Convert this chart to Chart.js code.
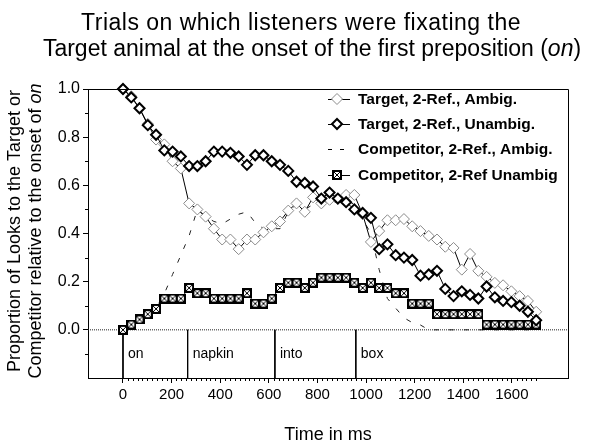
<!DOCTYPE html>
<html>
<head>
<meta charset="utf-8">
<script src="https://cdn.jsdelivr.net/npm/chart.js@4.4.1/dist/chart.umd.min.js"></script>
<style>
html,body{margin:0;padding:0;background:#fff;}
#wrap{width:600px;height:448px;position:relative;}
</style>
</head>
<body>
<div id="wrap"><canvas id="c" width="600" height="448"></canvas></div>
<script>
// ---------- data ----------
const timesMs = [0,34,68,102,136,170,204,238,272,306,340,374,408,442,476,510,544,578,612,646,680,714,748,782,816,850,884,918,952,986,1020,1054,1088,1122,1156,1190,1224,1258,1292,1326,1360,1394,1428,1462,1496,1530,1564,1598,1632,1666,1700];

const targetAmbig = [1.0,0.97,0.92,0.855,0.79,0.77,0.70,0.67,0.525,0.50,0.47,0.42,0.375,0.375,0.335,0.375,0.375,0.405,0.43,0.45,0.495,0.525,0.49,0.55,0.525,0.54,0.545,0.56,0.56,0.48,0.365,0.41,0.455,0.455,0.46,0.43,0.41,0.39,0.375,0.345,0.34,0.25,0.315,0.245,0.22,0.195,0.185,0.16,0.14,0.12,0.075];

const targetUnambig = [1.0,0.965,0.92,0.85,0.81,0.745,0.74,0.72,0.68,0.68,0.70,0.74,0.74,0.735,0.72,0.685,0.725,0.725,0.70,0.685,0.66,0.615,0.61,0.595,0.545,0.57,0.545,0.53,0.50,0.485,0.465,0.335,0.355,0.31,0.30,0.29,0.225,0.23,0.245,0.17,0.14,0.16,0.145,0.13,0.18,0.135,0.12,0.115,0.10,0.075,0.04];

const competitorAmbig = [0,0.02,0.04,0.065,0.09,0.15,0.23,0.31,0.39,0.50,0.47,0.45,0.44,0.46,0.48,0.49,0.445,0.42,0.42,0.42,0.49,0.52,0.50,0.52,0.52,0.53,0.53,0.54,0.52,0.46,0.40,0.25,0.13,0.09,0.05,0.03,0.02,0,0,0,0,0,0,0,0,0,0,0,0,0,0];

const competitorUnambig = [0,0.022,0.043,0.065,0.087,0.13,0.13,0.13,0.174,0.152,0.152,0.13,0.13,0.13,0.13,0.152,0.109,0.109,0.13,0.174,0.196,0.196,0.174,0.196,0.217,0.217,0.217,0.217,0.196,0.174,0.196,0.174,0.174,0.152,0.152,0.109,0.109,0.109,0.065,0.065,0.065,0.065,0.065,0.065,0.022,0.022,0.022,0.022,0.022,0.022,0.022];

const seriesLabels = ['Target, 2-Ref., Ambig.','Target, 2-Ref., Unambig.','Competitor, 2-Ref., Ambig.','Competitor, 2-Ref Unambig'];
const wordOnsets = [0,266,625,958];
const wordLabels = ['on','napkin','into','box'];
const xTickValues = [0,200,400,600,800,1000,1200,1400,1600];
const yTickValues = [0,0.2,0.4,0.6,0.8,1.0];
const xRange = [-144,1831];
const yRange = [-0.2,1.0];

// ---------- styling ----------
const FONT = "'Liberation Sans', Arial, Helvetica, sans-serif";

function makeBoxX(){
  const c = document.createElement('canvas');
  c.width = 10; c.height = 10;
  const g = c.getContext('2d');
  g.fillStyle = '#fff'; g.fillRect(0,0,10,10);
  g.strokeStyle = '#000';
  g.lineWidth = 2; g.strokeRect(1,1,8,8);
  g.lineWidth = 1;
  g.beginPath(); g.moveTo(1.5,1.5); g.lineTo(8.5,8.5); g.moveTo(8.5,1.5); g.lineTo(1.5,8.5); g.stroke();
  return c;
}
const boxX = makeBoxX();

const pts = arr => timesMs.map((t,i)=>({x:t,y:arr[i]}));

const styles = [
  {borderColor:'#000',borderWidth:1,pointStyle:'rectRot',pointRadius:5.5,pointBorderColor:'#8a8a8a',pointBorderWidth:1,pointBackgroundColor:'#fff',order:2},
  {borderColor:'#000',borderWidth:1,pointStyle:'rectRot',pointRadius:5,pointBorderColor:'#000',pointBorderWidth:2,pointBackgroundColor:'#fff',order:0},
  {borderColor:'#222',borderWidth:1,borderDash:[5,10],pointRadius:0,order:3},
  {borderColor:'#000',borderWidth:1,pointStyle:boxX,pointRadius:5,order:1}
];
const seriesData = [targetAmbig,targetUnambig,competitorAmbig,competitorUnambig];

const datasets = seriesData.map((arr,i)=>Object.assign({
  label:seriesLabels[i], data:pts(arr), tension:0, clip:false, pointHoverRadius:0
}, styles[i]));

// zero reference line
datasets.push({label:'zero', data:[{x:xRange[0],y:0},{x:xRange[1],y:0}], borderColor:'#222', borderWidth:1, borderDash:[1,1], pointRadius:0, order:5, clip:false});
// word onset lines
wordOnsets.forEach(t=>{
  datasets.push({label:'word', data:[{x:t,y:0},{x:t,y:yRange[0]}], borderColor:'#000', borderWidth:1, pointRadius:0, order:4});
});

function drawMixed(ctx, parts, cx, y, size, spacing){
  const sp = spacing || '0px';
  let total = 0;
  parts.forEach(p=>{ ctx.font = (p.i?'italic ':'') + size + 'px ' + FONT; ctx.letterSpacing = sp; p.w = ctx.measureText(p.t).width; total += p.w; });
  let x = cx - total/2;
  ctx.textAlign = 'left';
  parts.forEach(p=>{ ctx.font = (p.i?'italic ':'') + size + 'px ' + FONT; ctx.letterSpacing = sp; ctx.fillText(p.t, x, y); x += p.w; });
  ctx.letterSpacing = '0px';
}

const decor = {
  id:'decor',
  afterDraw(chart){
    const ctx = chart.ctx, a = chart.chartArea;
    const xs = chart.scales.x, ys = chart.scales.y;
    ctx.save();
    ctx.strokeStyle = '#000'; ctx.lineWidth = 1;
    // top and right frame
    ctx.beginPath();
    ctx.moveTo(a.left, Math.round(a.top)+0.5); ctx.lineTo(Math.round(a.right)+0.5, Math.round(a.top)+0.5);
    ctx.lineTo(Math.round(a.right)+0.5, a.bottom);
    ctx.stroke();
    // minor ticks x
    ctx.beginPath();
    for (let t=20; t<=1700; t+=20){
      if (t%200===0) continue;
      const px = Math.round(xs.getPixelForValue(t))+0.5;
      ctx.moveTo(px, a.bottom); ctx.lineTo(px, a.bottom+3);
    }
    // minor ticks y
    [-0.1,0.1,0.3,0.5,0.7,0.9].forEach(v=>{
      const py = Math.round(ys.getPixelForValue(v))+0.5;
      ctx.moveTo(a.left, py); ctx.lineTo(a.left-3, py);
    });
    ctx.stroke();
    // word labels
    ctx.fillStyle = '#000';
    ctx.font = '14px ' + FONT; ctx.textBaseline = 'middle'; ctx.textAlign = 'left';
    wordLabels.forEach((w,i)=>{
      ctx.fillText(w, xs.getPixelForValue(wordOnsets[i]) + 5, ys.getPixelForValue(-0.1));
    });
    // legend
    const rowY = [99,124,149,175];
    seriesLabels.forEach((lab,i)=>{
      const y = rowY[i], st = styles[i];
      ctx.save();
      ctx.strokeStyle = '#000'; ctx.lineWidth = 1;
      if (st.borderDash) ctx.setLineDash([4,8]);
      ctx.beginPath(); ctx.moveTo(328,y+0.5); ctx.lineTo(350,y+0.5); ctx.stroke();
      ctx.restore();
      if (i===3){
        ctx.drawImage(boxX, 337-5, y-5);
      } else if (i<2){
        ctx.save();
        ctx.beginPath();
        const r = st.pointRadius;
        ctx.moveTo(337-r,y); ctx.lineTo(337,y-r); ctx.lineTo(337+r,y); ctx.lineTo(337,y+r); ctx.closePath();
        ctx.fillStyle = '#fff'; ctx.fill();
        ctx.lineWidth = st.pointBorderWidth; ctx.strokeStyle = st.pointBorderColor; ctx.stroke();
        ctx.restore();
      }
      ctx.fillStyle = '#000';
      ctx.font = 'bold 15.5px ' + FONT;
      ctx.textAlign = 'left'; ctx.textBaseline = 'middle';
      ctx.fillText(lab, 358, y+1);
    });
    // main title
    ctx.fillStyle = '#000'; ctx.textBaseline = 'alphabetic';
    drawMixed(ctx, [{t:'Trials on which listeners were fixating the',i:false}], 301, 30, 23, '0.5px');
    drawMixed(ctx, [{t:'Target animal at the onset of the first preposition (',i:false},{t:'on',i:true},{t:')',i:false}], 312, 56, 23);
    // x title
    ctx.textBaseline = 'middle';
    drawMixed(ctx, [{t:'Time in ms',i:false}], (a.left+a.right)/2, 435, 18);
    // y title
    ctx.save();
    ctx.translate(15, 231); ctx.rotate(-Math.PI/2);
    drawMixed(ctx, [{t:'Proportion of Looks to the Target or',i:false}], 0, 0, 18);
    ctx.restore();
    ctx.save();
    ctx.translate(36, 231); ctx.rotate(-Math.PI/2);
    drawMixed(ctx, [{t:'Competitor relative to the onset of ',i:false},{t:'on',i:true}], 0, 0, 18);
    ctx.restore();
    ctx.restore();
  }
};

new Chart(document.getElementById('c'), {
  type:'line',
  data:{datasets},
  options:{
    responsive:false, animation:false, devicePixelRatio:1,
    layout:{padding:{top:89,right:32,left:0,bottom:0}},
    plugins:{legend:{display:false}, tooltip:{enabled:false}, title:{display:false}},
    events:[],
    scales:{
      x:{type:'linear', min:xRange[0], max:xRange[1],
        afterBuildTicks:s=>{ s.ticks = xTickValues.map(v=>({value:v})); },
        afterFit:s=>{ s.height = 70; },
        ticks:{font:{family:FONT,size:15}, color:'#000', padding:3, maxRotation:0, autoSkip:false, callback:v=>String(v)},
        grid:{drawOnChartArea:false, drawTicks:true, tickLength:5, color:'#000', lineWidth:1},
        border:{display:true, color:'#000', width:1}
      },
      y:{type:'linear', min:yRange[0], max:yRange[1],
        afterBuildTicks:s=>{ s.ticks = yTickValues.map(v=>({value:v})); },
        afterFit:s=>{ s.width = 88; },
        ticks:{font:{family:FONT,size:16}, color:'#000', padding:3, callback:v=>Number(v).toFixed(1)},
        grid:{drawOnChartArea:false, drawTicks:true, tickLength:5, color:'#000', lineWidth:1},
        border:{display:true, color:'#000', width:1}
      }
    }
  },
  plugins:[decor]
});
</script>
</body>
</html>
